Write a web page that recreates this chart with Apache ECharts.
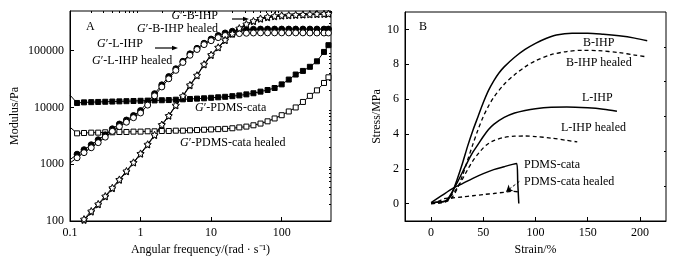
<!DOCTYPE html>
<html>
<head>
<meta charset="utf-8">
<script src="https://cdn.jsdelivr.net/npm/echarts@6/dist/echarts.min.js"></script>
<style>
  html, body { margin: 0; padding: 0; background: #fff; }
  #chart { width: 700px; height: 265px; }
</style>
</head>
<body>
<div id="chart"></div>
<script>
// ---- panel A: frequency sweep (rad/s) and storage modulus (Pa)
var freq = [0.1, 0.126, 0.158, 0.2, 0.251, 0.316, 0.398, 0.501, 0.631, 0.794, 1, 1.26, 1.58, 2, 2.51, 3.16, 3.98, 5.01, 6.31, 7.94,
  10, 12.6, 15.8, 20, 25.1, 31.6, 39.8, 50.1, 63.1, 79.4, 100, 126, 158, 200, 251, 316, 398, 460];
var pdmsCata = [16500, 12000, 12300, 12400, 12500, 12600, 12700, 12800, 12900, 13000, 13100, 13200, 13300, 13400, 13500, 13700, 13900, 14100, 14300, 14500,
  14800, 15100, 15400, 15800, 16300, 17000, 17800, 19000, 20300, 22000, 25500, 31000, 38000, 44000, 52000, 65000, 95000, 125000];
var pdmsCataHealed = [4500, 3500, 3550, 3600, 3600, 3650, 3650, 3700, 3700, 3750, 3750, 3800, 3800, 3850, 3850, 3900, 3900, 3950, 4000, 4050,
  4100, 4150, 4200, 4300, 4450, 4600, 4850, 5200, 5700, 6400, 7300, 8500, 10000, 12500, 16000, 20000, 27000, 34000];
var lIhp = [1200, 1500, 1800, 2200, 2700, 3300, 4200, 5100, 6000, 7200, 8800, 12500, 17500, 25000, 35000, 48000, 65000, 88000, 110000, 135000,
  160000, 185000, 205000, 220000, 230000, 235000, 238000, 240000, 240000, 240000, 240000, 240000, 240000, 240000, 240000, 240000, 240000, 240000];
var lIhpHealed = [1050, 1300, 1600, 1950, 2400, 3000, 3800, 4600, 5500, 6600, 8000, 11000, 16000, 23000, 32000, 45000, 62000, 83000, 105000, 128000,
  150000, 170000, 185000, 195000, 200000, 203000, 205000, 206000, 206000, 206000, 206000, 206000, 206000, 206000, 205000, 205000, 205000, 205000];
var bIhp = [null, null, 108, 150, 200, 275, 385, 540, 760, 1080, 1550, 2250, 3300, 5000, 7200, 11000, 16000, 25000, 37000, 58000,
  85000, 115000, 155000, 200000, 250000, 295000, 335000, 370000, 395000, 410000, 420000, 425000, 430000, 435000, 440000, 445000, 448000, 450000];
var bIhpHealed = [null, null, 102, 143, 192, 265, 370, 520, 735, 1050, 1500, 2180, 3200, 4850, 7000, 10700, 15500, 24000, 36000, 56000,
  82000, 112000, 150000, 195000, 242000, 285000, 325000, 358000, 380000, 395000, 405000, 412000, 418000, 423000, 428000, 432000, 436000, 440000];

var freqLabels = [0.1, 1, 10, 100];
var freqMinor = [0.2, 0.3, 0.4, 0.5, 0.6, 0.7, 0.8, 0.9, 2, 3, 4, 5, 6, 7, 8, 9, 20, 30, 40, 50, 60, 70, 80, 90, 200, 300, 400, 500];
var modLabels = [100, 1000, 10000, 100000];
var modMinor = [200, 300, 400, 500, 600, 700, 800, 900, 2000, 3000, 4000, 5000, 6000, 7000, 8000, 9000,
  20000, 30000, 40000, 50000, 60000, 70000, 80000, 90000, 200000, 300000, 400000, 500000];

// ---- panel B: stress-strain curves (strain %, stress MPa)
var bIhpStrain = [0, 5, 10, 15, 20, 25, 30, 35, 40, 45, 50, 55, 60, 65, 70, 80, 90, 100, 110, 120, 135, 150, 165, 180, 195, 207];
var bIhpStress = [0.05, 0.07, 0.1, 0.15, 0.6, 1.4, 2.3, 3.3, 4.2, 5.0, 5.8, 6.5, 7.05, 7.5, 7.85, 8.4, 8.85, 9.2, 9.48, 9.68, 9.78, 9.78, 9.72, 9.63, 9.5, 9.35];
var bIhpHealedStrain = [0, 10, 15, 20, 25, 30, 35, 40, 45, 50, 55, 60, 70, 80, 90, 100, 115, 130, 145, 160, 180, 195, 207];
var bIhpHealedStress = [0, 0.05, 0.12, 0.35, 0.85, 1.6, 2.5, 3.4, 4.25, 5.0, 5.6, 6.1, 6.85, 7.4, 7.85, 8.2, 8.55, 8.73, 8.8, 8.78, 8.67, 8.53, 8.42];
var lIhpStrain = [0, 5, 10, 15, 20, 25, 30, 35, 40, 45, 50, 55, 60, 70, 80, 90, 100, 115, 130, 150, 165, 178];
var lIhpStress = [0.05, 0.07, 0.1, 0.2, 0.65, 1.2, 1.8, 2.4, 2.95, 3.4, 3.85, 4.25, 4.55, 4.95, 5.2, 5.35, 5.45, 5.53, 5.55, 5.5, 5.42, 5.3];
var lIhpHealedStrain = [0, 10, 15, 20, 25, 30, 35, 40, 45, 50, 55, 60, 70, 80, 90, 100, 115, 130, 140];
var lIhpHealedStress = [0, 0.05, 0.15, 0.5, 0.9, 1.4, 1.95, 2.45, 2.85, 3.2, 3.45, 3.62, 3.8, 3.87, 3.88, 3.85, 3.76, 3.63, 3.54];
var pdmsStrain = [0, 5, 10, 20, 30, 40, 50, 60, 70, 78, 82, 83, 84];
var pdmsStress = [0.05, 0.25, 0.45, 0.85, 1.15, 1.45, 1.72, 1.95, 2.12, 2.25, 2.3, 1.2, 0];
var pdmsHealedStrain = [0, 3, 8, 12, 20, 30, 40, 50, 60, 70, 78, 83];
var pdmsHealedStress = [0, 0.05, 0.15, 0.28, 0.32, 0.38, 0.45, 0.52, 0.58, 0.65, 0.7, 0.68];

var strainLabels = [0, 50, 100, 150, 200];
var stressLabels = [0, 2, 4, 6, 8, 10];
var stressMinor = [1, 3, 5, 7, 9];

function zip(xs, ys) {
  return xs.map(function (x, i) { return [x, ys[i]]; });
}

var FONT = '"Liberation Serif", "Times New Roman", serif';
var star = 'path://M0,-10 L2.9,-4 L9.5,-3.1 L4.8,1.5 L5.9,8.1 L0,5 L-5.9,8.1 L-4.8,1.5 L-9.5,-3.1 L-2.9,-4 Z';

function logFmt(v) { return String(+Number(v).toPrecision(6)); }

function mainAxis(extra) {
  var base = {
    axisLine: { show: true, onZero: false, lineStyle: { color: '#000', width: 1 } },
    axisTick: { show: true, inside: true, length: 4, lineStyle: { color: '#000' } },
    axisLabel: { color: '#000', fontFamily: FONT, fontSize: 12, margin: 6 },
    splitLine: { show: false },
    nameLocation: 'middle',
    nameTextStyle: { color: '#000', fontFamily: FONT, fontSize: 12 }
  };
  return echarts.util.merge(base, extra, true);
}
function minorAxis(extra) {
  var base = {
    axisLine: { show: false, onZero: false },
    axisTick: { show: true, inside: true, length: 2, lineStyle: { color: '#000' } },
    axisLabel: { show: false },
    splitLine: { show: false }
  };
  return echarts.util.merge(base, extra, true);
}

function sweep(name, data, symbol, size, filled) {
  var pts = zip(freq, data).map(function (p, i) {
    // the sweep starts right at the axis edge: no marker there
    return i === 0 ? { value: p, symbol: 'none' } : p;
  });
  return {
    name: name, type: 'line', xAxisIndex: 0, yAxisIndex: 0,
    data: pts,
    symbol: symbol, symbolSize: size, showAllSymbol: true,
    lineStyle: { color: '#000', width: 1 },
    itemStyle: { color: filled ? '#000' : '#fff', borderColor: '#000', borderWidth: 1 }
  };
}
function curve(name, xs, ys, dashed) {
  return {
    name: name, type: 'line', xAxisIndex: 2, yAxisIndex: 2,
    data: zip(xs, ys), symbol: 'none', smooth: 0.3,
    lineStyle: { color: '#000', width: dashed ? 1.3 : 1.5, type: dashed ? [4, 3] : 'solid' }
  };
}

function label(x, y, text, align) {
  return {
    type: 'text', x: x, y: y,
    style: {
      text: text, fill: '#000', fontFamily: FONT, fontSize: 12,
      align: align || 'left', verticalAlign: 'middle',
      rich: { i: { fontStyle: 'italic', fontFamily: FONT, fontSize: 12, fill: '#000' } }
    }
  };
}
function arrow(x1, x2, y) {
  return [
    { type: 'line', shape: { x1: x1, y1: y, x2: x2 - 4, y2: y }, style: { stroke: '#000', lineWidth: 1.2 } },
    { type: 'polygon', shape: { points: [[x2, y], [x2 - 6, y - 2.2], [x2 - 6, y + 2.2]] }, style: { fill: '#000' } }
  ];
}

var chart = echarts.init(document.getElementById('chart'));
var option = {
  animation: false,
  backgroundColor: '#fff',
  grid: [
    { left: 70, right: 369, top: 11, bottom: 44, show: true, borderColor: '#000', borderWidth: 1, backgroundColor: 'transparent' },
    { left: 405, right: 34, top: 12, bottom: 44, show: true, borderColor: '#000', borderWidth: 1, backgroundColor: 'transparent' }
  ],
  xAxis: [
    mainAxis({ gridIndex: 0, type: 'log', min: 0.1, max: 500,
      axisTick: { customValues: freqLabels }, axisLabel: { customValues: freqLabels, formatter: logFmt },
      name: 'Angular frequency/(rad · s⁻¹)', nameGap: 20 }),
    minorAxis({ gridIndex: 0, type: 'log', min: 0.1, max: 500, axisTick: { customValues: freqMinor } }),
    mainAxis({ gridIndex: 1, type: 'value', min: -25, max: 225,
      axisTick: { customValues: strainLabels }, axisLabel: { customValues: strainLabels },
      name: 'Strain/%', nameGap: 20 })
  ],
  yAxis: [
    mainAxis({ gridIndex: 0, type: 'log', min: 100, max: 500000,
      axisTick: { customValues: modLabels }, axisLabel: { customValues: modLabels, formatter: logFmt },
      name: 'Modulus/Pa', nameGap: 49 }),
    minorAxis({ gridIndex: 0, type: 'log', min: 100, max: 500000, axisTick: { customValues: modMinor } }),
    mainAxis({ gridIndex: 1, type: 'value', min: -1, max: 11,
      axisTick: { customValues: stressLabels }, axisLabel: { customValues: stressLabels },
      name: 'Stress/MPa', nameGap: 19 }),
    minorAxis({ gridIndex: 1, type: 'value', min: -1, max: 11, axisTick: { customValues: stressMinor } })
  ],
  series: [
    sweep("G'-PDMS-cata healed", pdmsCataHealed, 'rect', 5, false),
    sweep("G'-PDMS-cata", pdmsCata, 'rect', 5, true),
    sweep("G'-L-IHP", lIhp, 'circle', 6, true),
    sweep("G'-L-IHP healed", lIhpHealed, 'circle', 6, false),
    sweep("G'-B-IHP healed", bIhpHealed, star, 6, false),
    sweep("G'-B-IHP", bIhp, star, 7, false),
    curve('B-IHP', bIhpStrain, bIhpStress, false),
    curve('B-IHP healed', bIhpHealedStrain, bIhpHealedStress, true),
    curve('L-IHP', lIhpStrain, lIhpStress, false),
    curve('L-IHP healed', lIhpHealedStrain, lIhpHealedStress, true),
    curve('PDMS-cata', pdmsStrain, pdmsStress, false),
    (function () {
      var s = curve('PDMS-cata healed', pdmsHealedStrain, pdmsHealedStress, true);
      s.markLine = {
        silent: true, symbol: ['none', 'arrow'], symbolSize: 6,
        label: { show: false },
        lineStyle: { color: '#000', width: 1, type: [3, 2] },
        data: [[{ coord: [84.5, 1.27] }, { coord: [72, 0.7] }]]
      };
      return s;
    })()
  ],
  graphic: [
    label(86, 27, 'A'),
    label(218, 16, '{i|G}′-B-IHP', 'right'),
    label(218, 29, '{i|G}′-B-IHP healed', 'right'),
    label(97, 44, '{i|G}′-L-IHP'),
    label(92, 61, '{i|G}′-L-IHP healed'),
    label(195, 108, '{i|G}′-PDMS-cata'),
    label(180, 143, '{i|G}′-PDMS-cata healed'),
    label(419, 27, 'B'),
    label(583, 43, 'B-IHP'),
    label(566, 63, 'B-IHP healed'),
    label(582, 98, 'L-IHP'),
    label(561, 128, 'L-IHP healed'),
    label(524, 165, 'PDMS-cata'),
    label(524, 182, 'PDMS-cata healed')
  ].concat(arrow(232, 249, 19), arrow(155, 178, 48))
};
chart.setOption(option);
</script>
</body>
</html>
